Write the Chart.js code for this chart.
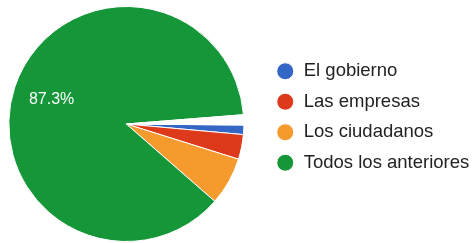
<!DOCTYPE html>
<html>
<head>
<meta charset="utf-8">
<script src="https://cdn.jsdelivr.net/npm/chart.js@4/dist/chart.umd.min.js"></script>
<style>
  html, body { margin: 0; padding: 0; background: #fff; }
  #wrap { width: 473px; height: 243px; }
</style>
</head>
<body>
<div id="wrap"><canvas id="pieChart"></canvas></div>
<script>
// survey answers, clockwise from 3 o'clock; last slice is the blank gap (not in legend)
const categories = ['El gobierno', 'Las empresas', 'Los ciudadanos', 'Todos los anteriores', ''];
const percentages = [1.3, 3.4, 6.6, 87.3, 1.4];
const sliceColors = ['#3466c6', '#dc3a1b', '#f59a2c', '#159639', '#ffffff'];

const fontFamily = '"Liberation Sans", Arial, Helvetica, sans-serif';

// percent text inside the big slices
const sliceLabels = {
    id: 'sliceLabels',
    afterDatasetsDraw(chart) {
        const ctx = chart.ctx;
        const arcs = chart.getDatasetMeta(0).data;
        ctx.save();
        ctx.font = '16px ' + fontFamily;
        ctx.fillStyle = '#ffffff';
        ctx.textAlign = 'center';
        ctx.textBaseline = 'middle';
        arcs.forEach((arc, i) => {
            if (percentages[i] < 10) return;
            const p = arc.getProps(['x', 'y', 'startAngle', 'endAngle', 'outerRadius'], true);
            const mid = (p.startAngle + p.endAngle) / 2;
            const r = p.outerRadius * 0.67;
            ctx.fillText(percentages[i].toFixed(1) + '%', p.x + Math.cos(mid) * r, p.y + Math.sin(mid) * r);
        });
        ctx.restore();
    }
};

// put the legend block where the original has it (pie area is already fixed by then)
const legendNudge = {
    id: 'legendNudge',
    afterLayout(chart) {
        const lg = chart.legend;
        const dx = 264 - lg.left;
        lg.left += dx;
        lg.right += dx;
        lg.top -= 7;
        lg.bottom -= 7;
    }
};

const ctx = document.getElementById('pieChart').getContext('2d');
const pieChart = new Chart(ctx, {
    type: 'pie',
    data: {
        labels: categories,
        datasets: [{
            data: percentages,
            backgroundColor: sliceColors,
            borderColor: '#ffffff',
            borderWidth: 1
        }]
    },
    options: {
        responsive: true,
        maintainAspectRatio: false,
        animation: false,
        rotation: 90.5,
        layout: {
            padding: { left: 0, top: 6, bottom: 1, right: 5 }
        },
        plugins: {
            tooltip: { enabled: false },
            legend: {
                position: 'right',
                labels: {
                    usePointStyle: true,
                    pointStyle: 'circle',
                    boxHeight: 12,
                    padding: 12,
                    color: '#222222',
                    font: { size: 18.5, family: fontFamily },
                    filter: item => item.text !== ''
                }
            }
        }
    },
    plugins: [sliceLabels, legendNudge]
});
</script>
</body>
</html>
